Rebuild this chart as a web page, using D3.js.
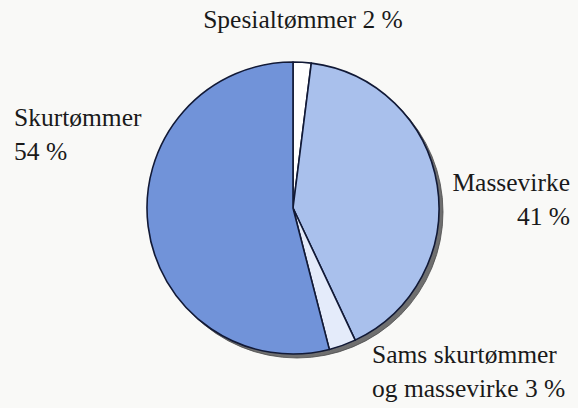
<!DOCTYPE html>
<html>
<head>
<meta charset="utf-8">
<script src="https://cdn.jsdelivr.net/npm/d3@7"></script>
<style>
  body { margin: 0; background: #f9f9f7; }
  svg { display: block; }
</style>
</head>
<body>
<svg id="chart" width="578" height="408"></svg>
<script>
// shares of the harvest, clockwise from 12 o'clock
var categories = ["Spesialtømmer", "Massevirke", "Sams skurtømmer og massevirke", "Skurtømmer"];
var shares = [2, 41, 3, 54];

var fills = ["#ffffff", "#a9c0ec", "#e4ebfa", "#7193d9"];

var W = 578, H = 408;
var cx = 293, cy = 208, R = 146;
var FONT = "'Liberation Serif', 'Times New Roman', Tinos, 'DejaVu Serif', 'Noto Serif', serif";

var svg = d3.select("#chart");
svg.append("rect").attr("width", W).attr("height", H).attr("fill", "#f9f9f7");

var pie = d3.pie().sort(null).value(function(d) { return d; });
var arc = d3.arc().innerRadius(0).outerRadius(R);

/* drop shadow, offset down-right */
svg.append("circle")
    .attr("cx", cx + 4)
    .attr("cy", cy + 4)
    .attr("r", R)
    .attr("fill", "#6f6f6f")
    .attr("stroke", "#4a4a4a")
    .attr("stroke-width", 0.8);

var g = svg.append("g").attr("transform", "translate(" + cx + "," + cy + ")");

g.selectAll("path")
    .data(pie(shares))
    .enter().append("path")
    .attr("d", arc)
    .attr("fill", function(d, i) { return fills[i]; })
    .attr("stroke", "#111936")
    .attr("stroke-width", 1.6)
    .attr("stroke-linejoin", "round");

/* labels */
var labels = [
    { lines: [categories[0] + " " + shares[0] + " %"], x: 303, y: 28, anchor: "middle" },
    { lines: [categories[1], shares[1] + " %"], x: 570, y: 191, anchor: "end" },
    { lines: ["Sams skurtømmer", "og massevirke " + shares[2] + " %"], x: 372, y: 363, anchor: "start" },
    { lines: [categories[3], shares[3] + " %"], x: 14, y: 126, anchor: "start" }
];

labels.forEach(function(l) {
    var t = svg.append("text")
        .attr("x", l.x)
        .attr("y", l.y)
        .attr("text-anchor", l.anchor)
        .attr("font-family", FONT)
        .attr("font-size", 25.5)
        .attr("fill", "#1a1a1a");
    l.lines.forEach(function(s, k) {
        t.append("tspan")
            .attr("x", l.x)
            .attr("dy", k === 0 ? 0 : 34)
            .text(s);
    });
});
</script>
</body>
</html>
